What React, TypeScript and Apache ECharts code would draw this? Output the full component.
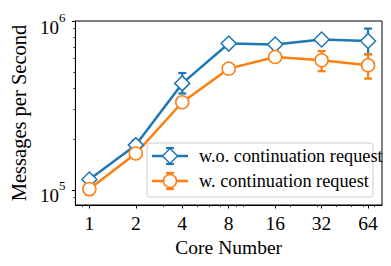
import React, { useEffect, useRef } from "react";
import * as echarts from "echarts";

const cores = [1, 2, 4, 8, 16, 32, 64];
const woMean = [115000, 184000, 427000, 735000, 725000, 777000, 762000];
const woLow = [111000, 172000, 372000, 718000, 708000, 758000, 635000];
const woHigh = [119000, 196000, 492000, 752000, 742000, 797000, 902000];
const wMean = [101000, 164000, 330000, 522000, 612000, 585000, 547000];
const wLow = [93000, 157000, 318000, 508000, 595000, 504000, 456000];
const wHigh = [109000, 171000, 342000, 536000, 650000, 664000, 635000];
const xMajor = [1, 2, 4, 8, 16, 32, 64];
const xMinor = [0.9, 3, 5, 6, 7, 9, 10, 20, 30, 40, 50, 60, 70];
const yMajor = [1e5, 1e6];
const yMinor = [9e4, 2e5, 3e5, 4e5, 5e5, 6e5, 7e5, 8e5, 9e5];
const seriesNames = ["w.o. continuation request", "w. continuation request"];

const BLUE = "#1f77b4";
const ORANGE = "#ff7f0e";
const FONT = "Liberation Serif";

const l2 = (v: number) => Math.log2(v);
const l10 = (v: number) => Math.log10(v);

function errRender(color: string) {
  return (params: any, api: any) => {
    const x = api.value(0);
    const lo = api.coord([x, api.value(1)]);
    const hi = api.coord([x, api.value(2)]);
    const cw = 4;
    const style = { stroke: color, lineWidth: 2.2, fill: "none" };
    return {
      type: "group",
      children: [
        { type: "line", shape: { x1: lo[0], y1: lo[1], x2: hi[0], y2: hi[1] }, style },
        { type: "line", shape: { x1: lo[0] - cw, y1: lo[1], x2: lo[0] + cw, y2: lo[1] }, style },
        { type: "line", shape: { x1: hi[0] - cw, y1: hi[1], x2: hi[0] + cw, y2: hi[1] }, style },
      ],
    };
  };
}

function legendRow(y: number, color: string, marker: "diamond" | "circle", text: string) {
  const cx = 170;
  const style = { stroke: color, lineWidth: 2.2, fill: "none" };
  const children: any[] = [
    { type: "line", shape: { x1: 152, y1: y, x2: 188, y2: y }, style: { stroke: color, lineWidth: 2.5 } },
    { type: "line", shape: { x1: cx, y1: y - 8, x2: cx, y2: y + 8 }, style },
    { type: "line", shape: { x1: cx - 4, y1: y - 8, x2: cx + 4, y2: y - 8 }, style },
    { type: "line", shape: { x1: cx - 4, y1: y + 8, x2: cx + 4, y2: y + 8 }, style },
  ];
  if (marker === "diamond") {
    children.push({
      type: "polygon",
      shape: { points: [[cx, y - 7.5], [cx + 7.5, y], [cx, y + 7.5], [cx - 7.5, y]] },
      style: { fill: "#fff", stroke: color, lineWidth: 1.5 },
    });
  } else {
    children.push({
      type: "circle",
      shape: { cx, cy: y, r: 6.5 },
      style: { fill: "#fff", stroke: color, lineWidth: 1.5 },
    });
  }
  children.push({
    type: "text",
    x: 199,
    y,
    style: { text, fontFamily: FONT, fontSize: 18.3, fill: "#000", verticalAlign: "middle", align: "left" },
  });
  return children;
}

export default function App() {
  const ref = useRef<HTMLDivElement>(null);
  useEffect(() => {
    if (!ref.current) return;
    const chart = echarts.init(ref.current, null, { renderer: "svg" });
    const xMin = -0.3, xMax = 6.3;
    const yMin = 4.91, yMax = 6;
    const woData = cores.map((c, i) => [l2(c), l10(woMean[i])]);
    const wData = cores.map((c, i) => [l2(c), l10(wMean[i])]);
    const woErr = cores.map((c, i) => [l2(c), l10(woLow[i]), l10(woHigh[i])]);
    const wErr = cores.map((c, i) => [l2(c), l10(wLow[i]), l10(wHigh[i])]);
    chart.setOption({
      animation: false,
      backgroundColor: "#fff",
      grid: { left: 72, top: 21, width: 310, height: 184, show: true, borderColor: "#000", borderWidth: 1, backgroundColor: "transparent" },
      xAxis: [
        {
          type: "value",
          min: xMin,
          max: xMax,
          name: "Core Number",
          nameLocation: "middle",
          nameGap: 31,
          nameTextStyle: { fontFamily: FONT, fontSize: 19.5, color: "#000" },
          axisLine: { show: true, onZero: false, lineStyle: { color: "#000", width: 1 } },
          axisTick: { show: true, length: 3.5, lineStyle: { color: "#000", width: 1 }, customValues: xMajor.map(l2) },
          axisLabel: {
            customValues: xMajor.map(l2),
            formatter: (v: number) => String(Math.round(Math.pow(2, v))),
            fontFamily: FONT,
            fontSize: 19.5,
            color: "#000",
            margin: 8,
          },
          splitLine: { show: false },
        },
        {
          type: "value",
          min: xMin,
          max: xMax,
          position: "bottom",
          axisLine: { show: false, onZero: false },
          axisTick: { show: true, length: 2, lineStyle: { color: "#000", width: 0.8 }, customValues: xMinor.map(l2) },
          axisLabel: { show: false },
          splitLine: { show: false },
        },
      ],
      yAxis: [
        {
          type: "value",
          min: yMin,
          max: yMax,
          name: "Messages per Second",
          nameLocation: "middle",
          nameGap: 38,
          nameTextStyle: { fontFamily: FONT, fontSize: 20.5, color: "#000" },
          axisLine: { show: true, onZero: false, lineStyle: { color: "#000", width: 1 } },
          axisTick: { show: true, length: 3.5, lineStyle: { color: "#000", width: 1 }, customValues: yMajor.map(l10) },
          axisLabel: {
            customValues: yMajor.map(l10),
            formatter: (v: number) => `{b|10}{s|${Math.round(v)}}`,
            margin: 10,
            rich: {
              b: { fontFamily: FONT, fontSize: 19, color: "#000", padding: [12, 0, 0, 0] },
              s: { fontFamily: FONT, fontSize: 13, color: "#000", padding: [0, 0, 8, 0] },
            },
          },
          splitLine: { show: false },
        },
        {
          type: "value",
          min: yMin,
          max: yMax,
          position: "left",
          axisLine: { show: false, onZero: false },
          axisTick: { show: true, length: 2, lineStyle: { color: "#000", width: 0.8 }, customValues: yMinor.map(l10) },
          axisLabel: { show: false },
          splitLine: { show: false },
        },
      ],
      series: [
        {
          type: "custom",
          name: seriesNames[0] + " err",
          renderItem: errRender(BLUE),
          data: woErr,
          encode: { x: 0, y: [1, 2] },
          z: 1,
          silent: true,
        },
        {
          type: "custom",
          name: seriesNames[1] + " err",
          renderItem: errRender(ORANGE),
          data: wErr,
          encode: { x: 0, y: [1, 2] },
          z: 1,
          silent: true,
        },
        {
          type: "line",
          name: seriesNames[0],
          data: woData,
          symbol: "diamond",
          symbolSize: [15, 15],
          showAllSymbol: true,
          lineStyle: { color: BLUE, width: 2.5 },
          itemStyle: { color: "#fff", borderColor: BLUE, borderWidth: 1.5 },
          z: 3,
        },
        {
          type: "line",
          name: seriesNames[1],
          data: wData,
          symbol: "circle",
          symbolSize: 13,
          showAllSymbol: true,
          lineStyle: { color: ORANGE, width: 2.5 },
          itemStyle: { color: "#fff", borderColor: ORANGE, borderWidth: 1.5 },
          z: 3,
        },
      ],
      graphic: [
        {
          type: "group",
          z: 100,
          children: [
            {
              type: "rect",
              shape: { x: 147, y: 143, width: 226, height: 54, r: 3 },
              style: { fill: "rgba(255,255,255,0.8)", stroke: "#cccccc", lineWidth: 1 },
            },
            ...legendRow(156, BLUE, "diamond", seriesNames[0]),
            ...legendRow(181, ORANGE, "circle", seriesNames[1]),
          ],
        },
      ],
    });
    return () => chart.dispose();
  }, []);
  return <div ref={ref} style={{ position: "fixed", left: 0, top: 0, width: 391, height: 266 }} />;
}
